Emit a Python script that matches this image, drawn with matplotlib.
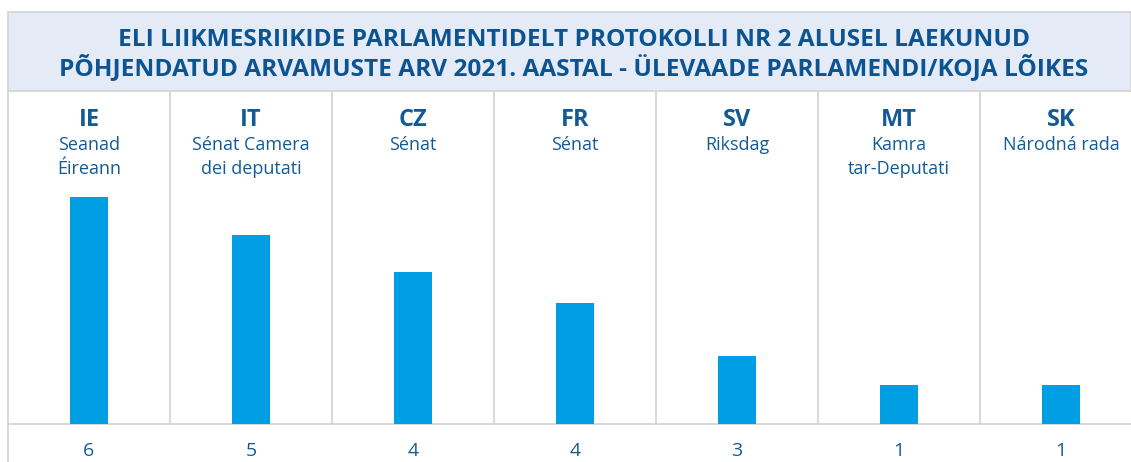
import matplotlib.pyplot as plt
from matplotlib.patches import Rectangle
from matplotlib.transforms import blended_transform_factory

# --- Andmed ---
codes = ["IE", "IT", "CZ", "FR", "SV", "MT", "SK"]
chambers = ["Seanad\nÉireann", "Sénat Camera\ndei deputati", "Sénat", "Sénat",
            "Riksdag", "Kamra\ntar-Deputati", "Národná rada"]
counts = ["6", "5", "4", "4", "3", "1", "1"]
bar_heights = [6, 5, 4.02, 3.2, 1.8, 1.02, 1.02]

title = ("ELI LIIKMESRIIKIDE PARLAMENTIDELT PROTOKOLLI NR 2 ALUSEL LAEKUNUD\n"
         "PÕHJENDATUD ARVAMUSTE ARV 2021. AASTAL - ÜLEVAADE PARLAMENDI/KOJA LÕIKES")

W, H = 1131, 462
dark = "#0b5391"
txt = "#135b97"
bar_col = "#009fe3"
grid = "#d2d2d2"

plt.rcParams["font.family"] = ["Open Sans", "DejaVu Sans"]

fig = plt.figure(figsize=(W / 100, H / 100), dpi=100)

def fy(py):
    return 1 - py / H

def fx(px):
    return px / W

# --- Pealkirja kast ---
fig.patches.append(Rectangle((fx(8), fy(91)), fx(1131) - fx(8), fy(12) - fy(91),
                             transform=fig.transFigure, facecolor="#e4eaf6",
                             edgecolor=grid, linewidth=1.2))
lines = title.split("\n")
fig.text(fx(574), fy(46.5), lines[0], ha="center", va="baseline", fontsize=17.6,
         fontweight="bold", color=dark)
fig.text(fx(574), fy(75.5), lines[1], ha="center", va="baseline", fontsize=17.6,
         fontweight="bold", color=dark)

# --- Tulbad ---
col_w = 162
ax = fig.add_axes([fx(8), 1 - 424 / H, fx(8 + 7 * col_w) - fx(8), (424 - 91) / H])
x = list(range(len(codes)))
ax.bar(x, bar_heights, width=38 / col_w, color=bar_col, zorder=3)
ax.set_xlim(-0.5, len(codes) - 0.5)
ax.set_ylim(0, 333 / 37.8)
ax.set_xticks([])
ax.set_yticks([])
for s in ["top", "right"]:
    ax.spines[s].set_visible(False)
ax.spines["left"].set_color(grid)
ax.spines["bottom"].set_color(grid)
ax.spines["left"].set_linewidth(1.2)
ax.spines["bottom"].set_linewidth(1.2)
for i in range(1, len(codes)):
    ax.axvline(i - 0.5, color=grid, linewidth=1.2, zorder=1)

# vasak joon ka numbrite all
fig.add_artist(plt.Line2D([fx(8), fx(8)], [0, fy(424)], transform=fig.transFigure,
                          color=grid, linewidth=1.2))

tr = blended_transform_factory(ax.transData, fig.transFigure)
for i, (c, ch, n) in enumerate(zip(codes, chambers, counts)):
    ax.text(i, fy(126.5), c, transform=tr, ha="center", va="baseline",
            fontsize=17, fontweight="bold", color=txt)
    for j, ln in enumerate(ch.split("\n")):
        ax.text(i, fy(150 + 24 * j), ln, transform=tr, ha="center", va="baseline",
                fontsize=13, color=txt)
    ax.text(i, fy(456), n, transform=tr, ha="center", va="baseline",
            fontsize=14, color=txt, clip_on=False)

fig.savefig("out.png", dpi=100)
